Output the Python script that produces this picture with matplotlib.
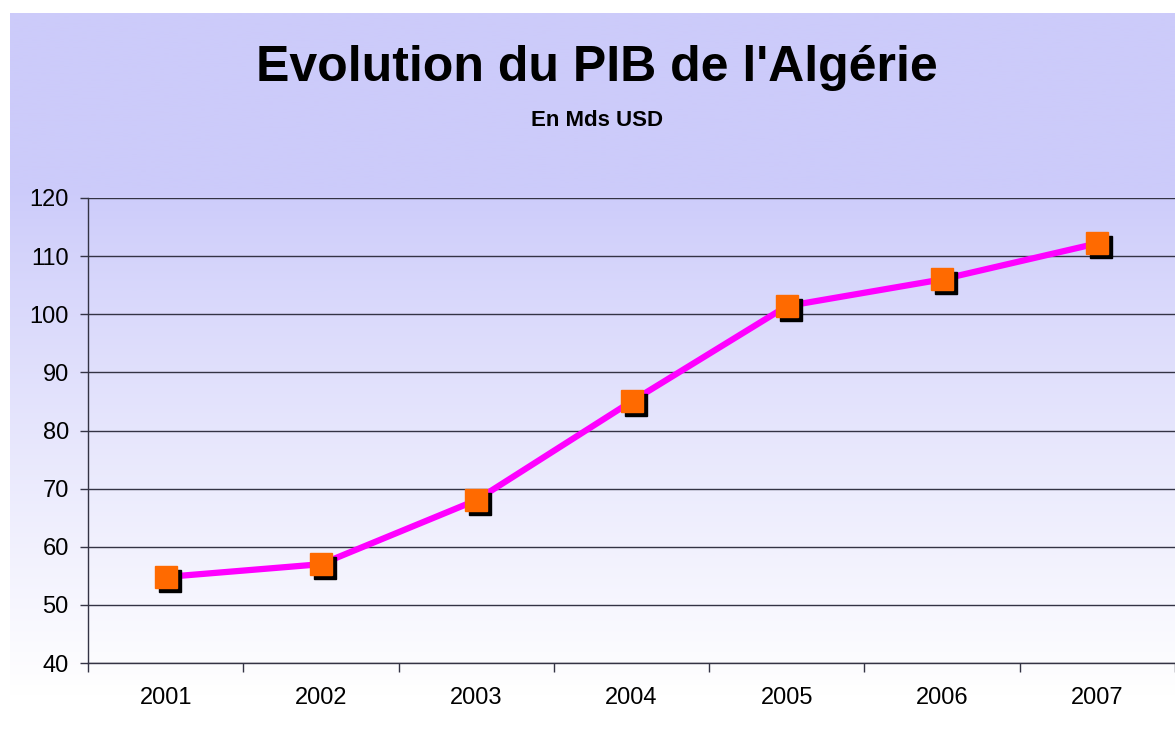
import numpy as np
import matplotlib
matplotlib.use("Agg")
from matplotlib import pyplot as plt
from matplotlib import transforms
from matplotlib.colors import LinearSegmentedColormap

plt.rcParams['font.family'] = ['Liberation Sans', 'DejaVu Sans']

years = ["2001", "2002", "2003", "2004", "2005", "2006", "2007"]
pib = [54.8, 57, 68, 85, 101.4, 106, 112.2]

W, H = 1175, 731
fig = plt.figure(figsize=(W/100, H/100), dpi=100)
fig.patch.set_facecolor("white")

# background gradient, lavender at the top fading to white
bg = fig.add_axes([10/W, 19/H, 1 - 10/W, 1 - 32/H], zorder=-10)
bg.set_axis_off()
rows = np.linspace(0, 1, 400).reshape(-1, 1)
grad = np.clip((rows * (H - 32) - 175) / 510, 0, 1) ** 0.9
cmap = LinearSegmentedColormap.from_list("bgr", ["#cccbfa", "#ffffff"])
bg.imshow(grad, aspect="auto", cmap=cmap, extent=[0, 1, 0, 1], vmin=0, vmax=1)

ax = fig.add_axes([88/W, (H - 663)/H, 1 - 88/W, (663 - 198)/H])
ax.patch.set_alpha(0)

x = np.arange(len(years))
ax.plot(x, pib, color="#ff00ff", lw=4.5, zorder=3, solid_capstyle="round")
shadow = transforms.offset_copy(ax.transData, fig=fig, x=4, y=-4, units="dots")
ax.plot(x, pib, ls="none", marker="s", ms=16, color="black", transform=shadow, zorder=4)
ax.plot(x, pib, ls="none", marker="s", ms=16, mfc="#ff6a00", mec="#ff6a00", zorder=5)

ax.set_xlim(-0.5, len(years) - 0.5)
ax.set_ylim(40, 120)
ax.set_yticks(range(40, 121, 10))
ax.yaxis.grid(True, color="#333344", lw=1)
ax.set_axisbelow(True)

ax.set_xticks(x)
ax.set_xticklabels(years)
ax.set_xticks(np.arange(-0.5, len(years), 1), minor=True)
ax.tick_params(axis="x", which="major", length=0, pad=17, labelsize=17)
ax.tick_params(axis="x", which="minor", length=6.5, color="#333344", width=1)
ax.tick_params(axis="y", length=5.8, color="#333344", width=1, labelsize=17, pad=8)

for s in ("top", "right"):
    ax.spines[s].set_visible(False)
for s in ("left", "bottom"):
    ax.spines[s].set_color("#333344")
    ax.spines[s].set_linewidth(1)

fig.text(597/W, 1 - 68/H, "Evolution du PIB de l'Algérie", ha="center", va="center",
         fontsize=36, fontweight="bold")
fig.text(597/W, 1 - 121/H, "En Mds USD", ha="center", va="center",
         fontsize=16, fontweight="bold")

fig.savefig("out.png", dpi=100)
